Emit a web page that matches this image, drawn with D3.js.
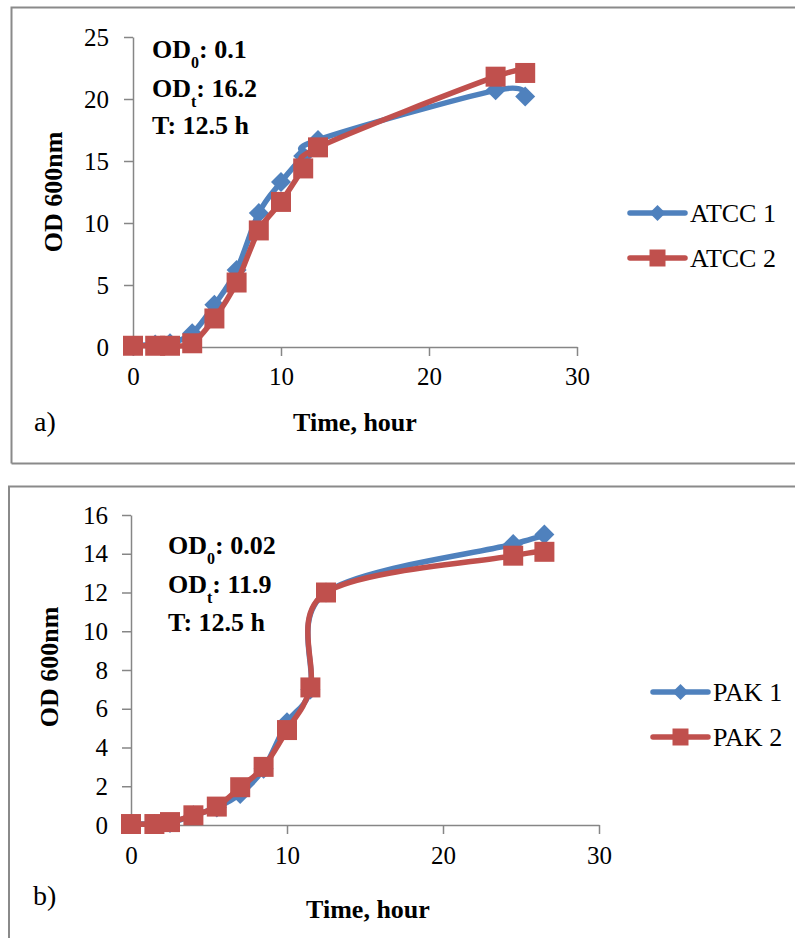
<!DOCTYPE html>
<html><head><meta charset="utf-8">
<script src="https://cdn.jsdelivr.net/npm/d3@7"></script>
<style>
body{margin:0;background:#fff}
svg{display:block}
text{font-family:"Liberation Serif","Times New Roman",serif;fill:#000}
</style>
</head><body>
<svg id="c" width="795" height="938"></svg>
<script>
// ---- data ----
const timeHours = [0, 1.5, 2.5, 4, 5.5, 7, 8.5, 10, 11.5, 12.5, 24.5, 26.5];
const atcc1 = [0.1, 0.2, 0.3, 1.1, 3.4, 6.2, 10.8, 13.3, 15.4, 16.7, 20.7, 20.2];
const atcc2 = [0.1, 0.1, 0.1, 0.3, 2.3, 5.2, 9.4, 11.7, 14.4, 16.1, 21.8, 22.1];
const pak1 = [0.05, 0.05, 0.1, 0.5, 0.9, 1.6, 2.9, 5.3, 7.0, 12.0, 14.5, 15.0];
const pak2 = [0.05, 0.05, 0.15, 0.5, 0.95, 1.95, 3.0, 4.9, 7.1, 12.0, 13.9, 14.1];
const xTickValues = [0, 10, 20, 30];
const yTicksA = [0, 5, 10, 15, 20, 25];
const yTicksB = [0, 2, 4, 6, 8, 10, 12, 14, 16];
const legendA = ["ATCC 1", "ATCC 2"];
const legendB = ["PAK 1", "PAK 2"];
const annotA = [["OD", "0", ": 0.1"], ["OD", "t", ": 16.2"], ["T: 12.5 h", "", ""]];
const annotB = [["OD", "0", ": 0.02"], ["OD", "t", ": 11.9"], ["T: 12.5 h", "", ""]];
const xTitle = "Time, hour";
const yTitle = "OD 600nm";
const panelLabels = ["a)", "b)"];

const BLUE = "#4F81BD", RED = "#C0504D", AXIS = "#868686", FRAME = "#8a8a8a";
const svg = d3.select("#c");

function drawPanel(cfg) {
  const g = svg.append("g");
  // frame
  g.append("path").attr("d", cfg.frame).attr("fill", "none")
    .attr("stroke", FRAME).attr("stroke-width", 2);

  const x = d3.scaleLinear().domain([0, 30]).range([cfg.x0, cfg.x1]);
  const y = d3.scaleLinear().domain([0, d3.max(cfg.yTicks)]).range([cfg.y0, cfg.y1]);

  // axes
  const ya = g.append("g").attr("transform", `translate(${cfg.x0},0)`)
    .call(d3.axisLeft(y).tickValues(cfg.yTicks).tickSize(9).tickSizeOuter(0).tickPadding(cfg.yPad).tickFormat(d3.format("d")));
  const xa = g.append("g").attr("transform", `translate(0,${cfg.y0})`)
    .call(d3.axisBottom(x).tickValues(xTickValues).tickSize(9).tickSizeOuter(0).tickPadding(cfg.xPad).tickFormat(d3.format("d")));
  [ya, xa].forEach(a => {
    a.selectAll("path,line").attr("stroke", AXIS).attr("stroke-width", 1.5);
    a.selectAll("text").attr("font-family", "Liberation Serif").attr("font-size", 25).attr("fill", "#000");
  });

  // series
  const line = d3.line().curve(d3.curveCardinal.tension(0))
    .x((d, i) => x(timeHours[i])).y(d => y(d));
  const series = [{vals: cfg.s1, color: BLUE, shape: "diamond"}, {vals: cfg.s2, color: RED, shape: "square"}];
  series.forEach(s => {
    g.append("path").attr("d", line(s.vals)).attr("fill", "none")
      .attr("stroke", s.color).attr("stroke-width", 5.5)
      .attr("stroke-linejoin", "round").attr("stroke-linecap", "round");
    g.selectAll(null).data(s.vals).enter().append("path")
      .attr("transform", (d, i) => `translate(${x(timeHours[i])},${y(d)})`)
      .attr("d", s.shape === "diamond" ? "M0,-10L10,0L0,10L-10,0Z" : "M-10,-10H10V10H-10Z")
      .attr("fill", s.color);
  });

  // legend
  cfg.legend.forEach((name, i) => {
    const ly = cfg.legY[i];
    const s = series[i];
    g.append("line").attr("x1", cfg.legX).attr("x2", cfg.legX + 55).attr("y1", ly).attr("y2", ly)
      .attr("stroke", s.color).attr("stroke-width", 5.5).attr("stroke-linecap", "round");
    const cx = cfg.legX + 27.5;
    g.append("path").attr("transform", `translate(${cx},${ly})`)
      .attr("d", s.shape === "diamond" ? "M0,-8L8,0L0,8L-8,0Z" : "M-8,-8.5H8V8.5H-8Z")
      .attr("fill", s.color);
    g.append("text").attr("x", cfg.legX + 60).attr("y", ly + 9).attr("font-size", 26).text(name);
  });

  // annotation
  cfg.annot.forEach((a, i) => {
    const t = g.append("text").attr("x", cfg.annX).attr("y", cfg.annY[i])
      .attr("font-size", 26).attr("font-weight", "bold");
    t.append("tspan").text(a[0]);
    if (a[1]) {
      t.append("tspan").attr("dy", 10).attr("font-size", 16).text(a[1]);
      t.append("tspan").attr("dy", -10).text(a[2]);
    }
  });

  // titles
  g.append("text").attr("transform", `translate(${cfg.yTitlePos[0]},${cfg.yTitlePos[1]}) rotate(-90)`)
    .attr("text-anchor", "middle").attr("font-size", 26).attr("font-weight", "bold").text(yTitle);
  g.append("text").attr("x", cfg.xTitlePos[0]).attr("y", cfg.xTitlePos[1])
    .attr("text-anchor", "middle").attr("font-size", 26).attr("font-weight", "bold").text(xTitle);
  g.append("text").attr("x", cfg.labelPos[0]).attr("y", cfg.labelPos[1])
    .attr("font-size", 28).text(cfg.label);
}

drawPanel({
  frame: "M11.5,463.5V7.5H800M11.5,463.5H800",
  x0: 133, x1: 577, y0: 347, y1: 37, yTicks: yTicksA, yPad: 15, xPad: 11,
  s1: atcc1, s2: atcc2, legend: legendA, legX: 630, legY: [213, 258],
  annot: annotA, annX: 152, annY: [58, 97, 134],
  yTitlePos: [62, 192], xTitlePos: [355, 431], labelPos: [34, 431], label: panelLabels[0]
});
drawPanel({
  frame: "M9,940V486.5H800",
  x0: 131, x1: 599, y0: 825, y1: 515, yTicks: yTicksB, yPad: 14, xPad: 12,
  s1: pak1, s2: pak2, legend: legendB, legX: 653, legY: [692, 737],
  annot: annotB, annX: 168, annY: [554, 593, 631],
  yTitlePos: [58, 667], xTitlePos: [368, 918], labelPos: [33, 905], label: panelLabels[1]
});
</script>
</body></html>
